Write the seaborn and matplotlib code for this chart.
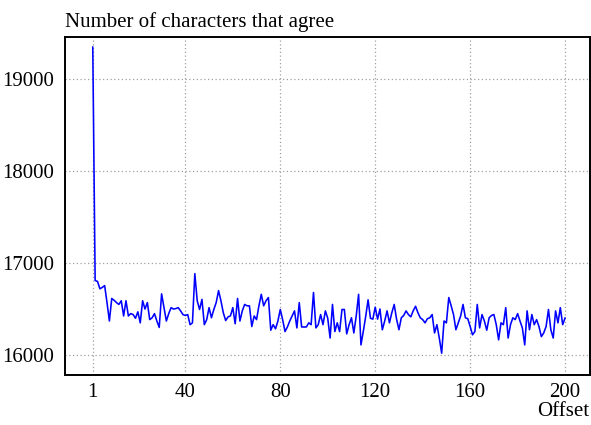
import pandas as pd
import seaborn as sns
import matplotlib
matplotlib.use("Agg")
import matplotlib.pyplot as plt

# offsets 1..200 and the agreement count
offset = list(range(1, 201))
agree = [
    19350, 16810, 16800, 16720, 16735, 16755, 16570, 16370, 16615, 16595,
    16570, 16550, 16590, 16425, 16590, 16425, 16450, 16440, 16400, 16470,
    16350, 16590, 16500, 16570, 16385, 16405, 16450, 16370, 16300, 16665,
    16515, 16370, 16450, 16515, 16500, 16505, 16515, 16480, 16440, 16430,
    16440, 16330, 16350, 16885, 16590, 16495, 16605, 16330, 16385, 16515,
    16405, 16495, 16570, 16700, 16590, 16460, 16375, 16415, 16425, 16515,
    16340, 16615, 16370, 16480, 16550, 16535, 16535, 16310, 16425, 16385,
    16535, 16660, 16535, 16590, 16625, 16270, 16330, 16285, 16370, 16495,
    16385, 16255, 16305, 16370, 16425, 16480, 16295, 16570, 16305, 16305,
    16305, 16350, 16330, 16680, 16295, 16330, 16440, 16330, 16480, 16400,
    16185, 16550, 16255, 16350, 16255, 16495, 16495, 16230, 16330, 16405,
    16240, 16425, 16660, 16110, 16260, 16420, 16600, 16400, 16390, 16520,
    16390, 16500, 16275, 16370, 16480, 16350, 16460, 16550, 16390, 16275,
    16405, 16430, 16480, 16440, 16415, 16480, 16530, 16460, 16405, 16385,
    16350, 16395, 16405, 16440, 16240, 16330, 16185, 16020, 16370, 16350,
    16625, 16535, 16440, 16275, 16350, 16425, 16550, 16405, 16395, 16310,
    16220, 16255, 16550, 16295, 16440, 16370, 16270, 16405, 16430, 16440,
    16330, 16165, 16350, 16330, 16515, 16185, 16330, 16405, 16385, 16450,
    16370, 16295, 16110, 16480, 16275, 16440, 16330, 16385, 16310, 16200,
    16240, 16310, 16495, 16275, 16185, 16480, 16350, 16515, 16330, 16405,
]
xticks = [1, 40, 80, 120, 160, 200]
yticks = [16000, 17000, 18000, 19000]

df = pd.DataFrame({"Offset": offset, "agree": agree})

sns.set_style("white")
plt.rcParams["font.family"] = ["Liberation Serif", "DejaVu Serif"]
plt.rcParams["text.color"] = "black"

fig = plt.figure(figsize=(5.91, 4.25), dpi=100)
ax = fig.add_axes([65 / 591, 50 / 425, 525 / 591, 338 / 425])

sns.lineplot(data=df, x="Offset", y="agree", color="#0000ff", linewidth=1.15, ax=ax)

ax.set_xlim(-10.7, 210.5)
ax.set_ylim(15783, 19457)
ax.set_xticks(xticks)
ax.set_yticks(yticks)
ax.tick_params(length=0, labelsize=15, colors="black")
ax.tick_params(axis="y", pad=8)
ax.tick_params(axis="x", pad=6)

ax.grid(True, color="#a0a0a0", linestyle=(0, (1, 2)), linewidth=0.9)
for s in ax.spines.values():
    s.set_color("black")
    s.set_linewidth(1.4)

ax.set_ylabel("")
ax.set_xlabel("")
ax.set_title("Number of characters that agree", loc="left", fontsize=15,
             pad=7, color="black")
fig.text(589 / 591, 4 / 425, "Offset", ha="right", va="bottom", fontsize=15,
         color="black")

plt.savefig("out.png", dpi=100)
